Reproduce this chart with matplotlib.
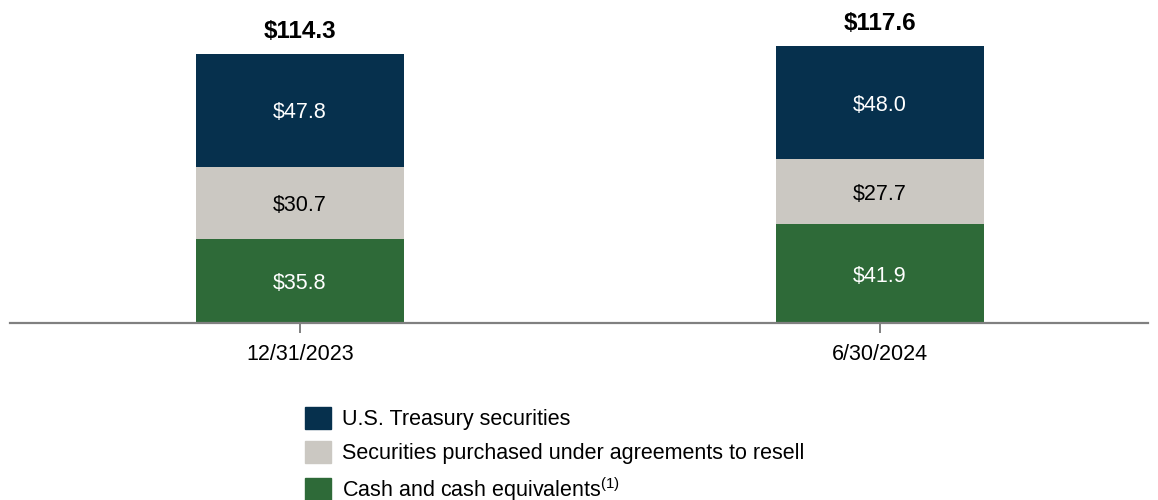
import matplotlib.pyplot as plt
from matplotlib.patches import Patch

plt.rcParams['font.family'] = ['Liberation Sans', 'DejaVu Sans']
plt.rcParams['mathtext.default'] = 'regular'

dates = ['12/31/2023', '6/30/2024']
cash = [35.8, 41.9]
resell = [30.7, 27.7]
treasury = [47.8, 48.0]
totals = [114.3, 117.6]

c_cash = '#2E6A38'
c_resell = '#CBC8C2'
c_treas = '#06304D'

fig = plt.figure(figsize=(11.58, 5), dpi=100)
ax = fig.add_axes([10 / 1158, 1 - 323 / 500, 1138 / 1158, 323 / 500])

x = [0, 1]
w = 0.3586
ax.bar(x, cash, w, color=c_cash)
ax.bar(x, resell, w, bottom=cash, color=c_resell)
bot2 = [a + b for a, b in zip(cash, resell)]
ax.bar(x, treasury, w, bottom=bot2, color=c_treas)

for i in range(2):
    ax.text(x[i], cash[i] / 2, '${:.1f}'.format(cash[i]), ha='center', va='center_baseline',
            color='white', fontsize=15.5)
    ax.text(x[i], cash[i] + resell[i] / 2, '${:.1f}'.format(resell[i]), ha='center',
            va='center_baseline', color='black', fontsize=15.5)
    ax.text(x[i], bot2[i] + treasury[i] / 2, '${:.1f}'.format(treasury[i]), ha='center',
            va='center_baseline', color='white', fontsize=15.5)
    ax.annotate('${:.1f}'.format(totals[i]), (x[i], totals[i]), xytext=(0, 8),
                textcoords='offset points', ha='center', va='bottom',
                fontsize=17.5, fontweight='bold')

ax.set_xlim(-0.5, 1.462)
ax.set_ylim(0, 137.3)
for s in ['top', 'right', 'left']:
    ax.spines[s].set_visible(False)
ax.spines['bottom'].set_color('#808080')
ax.spines['bottom'].set_linewidth(1.6)
ax.set_yticks([])
ax.set_xticks(x)
ax.set_xticklabels(dates, fontsize=15.5)
ax.tick_params(axis='x', direction='out', length=7, width=1.4, color='#808080', pad=8)

handles = [Patch(color=c_treas), Patch(color=c_resell), Patch(color=c_cash)]
labels = ['U.S. Treasury securities', 'Securities purchased under agreements to resell',
          'Cash and cash equivalents$^{(1)}$']
fig.legend(handles, labels, loc='upper left', bbox_to_anchor=(305 / 1158, 1 - 407 / 500),
           frameon=False, fontsize=15.5, handlelength=1.2, handleheight=1.2,
           handletextpad=0.5, labelspacing=0.5, borderpad=0, borderaxespad=0)

fig.savefig('out.png', dpi=100)
